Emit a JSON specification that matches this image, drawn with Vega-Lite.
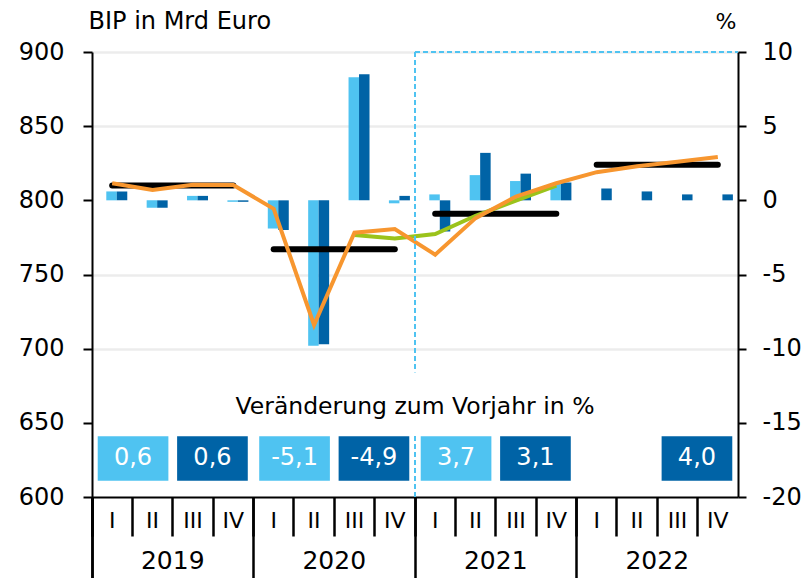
{
  "$schema": "https://vega.github.io/schema/vega-lite/v6.json",
  "width": 646,
  "height": 445,
  "autosize": "none",
  "padding": {"left": 92, "top": 52, "right": 70, "bottom": 81},
  "background": "white",
  "config": {
    "font": "DejaVu Sans",
    "view": {"stroke": null},
    "axis": {
      "domainColor": "black",
      "tickColor": "black",
      "labelColor": "black",
      "titleColor": "black",
      "labelFont": "DejaVu Sans",
      "titleFont": "DejaVu Sans",
      "titleFontWeight": "normal"
    }
  },
  "datasets": {
    "balken": [
      {"quartal": "2019 I", "reihe": "A", "pct": 0.6},
      {"quartal": "2019 II", "reihe": "A", "pct": -0.5},
      {"quartal": "2019 III", "reihe": "A", "pct": 0.3},
      {"quartal": "2019 IV", "reihe": "A", "pct": -0.1},
      {"quartal": "2020 I", "reihe": "A", "pct": -1.9},
      {"quartal": "2020 II", "reihe": "A", "pct": -9.8},
      {"quartal": "2020 III", "reihe": "A", "pct": 8.3},
      {"quartal": "2020 IV", "reihe": "A", "pct": -0.2},
      {"quartal": "2021 I", "reihe": "A", "pct": 0.4},
      {"quartal": "2021 II", "reihe": "A", "pct": 1.7},
      {"quartal": "2021 III", "reihe": "A", "pct": 1.3},
      {"quartal": "2021 IV", "reihe": "A", "pct": 1.1},
      {"quartal": "2019 I", "reihe": "B", "pct": 0.6},
      {"quartal": "2019 II", "reihe": "B", "pct": -0.5},
      {"quartal": "2019 III", "reihe": "B", "pct": 0.3},
      {"quartal": "2019 IV", "reihe": "B", "pct": -0.1},
      {"quartal": "2020 I", "reihe": "B", "pct": -2.0},
      {"quartal": "2020 II", "reihe": "B", "pct": -9.7},
      {"quartal": "2020 III", "reihe": "B", "pct": 8.5},
      {"quartal": "2020 IV", "reihe": "B", "pct": 0.3},
      {"quartal": "2021 I", "reihe": "B", "pct": -2.1},
      {"quartal": "2021 II", "reihe": "B", "pct": 3.2},
      {"quartal": "2021 III", "reihe": "B", "pct": 1.8},
      {"quartal": "2021 IV", "reihe": "B", "pct": 1.2},
      {"quartal": "2022 I", "reihe": "B", "pct": 0.8},
      {"quartal": "2022 II", "reihe": "B", "pct": 0.6},
      {"quartal": "2022 III", "reihe": "B", "pct": 0.4},
      {"quartal": "2022 IV", "reihe": "B", "pct": 0.4}
    ],
    "linien": [
      {"quartal": "2019 I", "linie": "orange", "wert": 811.5},
      {"quartal": "2019 II", "linie": "orange", "wert": 807},
      {"quartal": "2019 III", "linie": "orange", "wert": 810.5},
      {"quartal": "2019 IV", "linie": "orange", "wert": 810.3},
      {"quartal": "2020 I", "linie": "orange", "wert": 794.3},
      {"quartal": "2020 II", "linie": "orange", "wert": 716},
      {"quartal": "2020 III", "linie": "orange", "wert": 778.2},
      {"quartal": "2020 IV", "linie": "orange", "wert": 780.7},
      {"quartal": "2021 I", "linie": "orange", "wert": 763.4},
      {"quartal": "2021 II", "linie": "orange", "wert": 788},
      {"quartal": "2021 III", "linie": "orange", "wert": 802.6},
      {"quartal": "2021 IV", "linie": "orange", "wert": 811.5},
      {"quartal": "2022 I", "linie": "orange", "wert": 819},
      {"quartal": "2022 II", "linie": "orange", "wert": 823},
      {"quartal": "2022 III", "linie": "orange", "wert": 826},
      {"quartal": "2022 IV", "linie": "orange", "wert": 829.2},
      {"quartal": "2020 III", "linie": "gruen", "wert": 776.6},
      {"quartal": "2020 IV", "linie": "gruen", "wert": 774.2},
      {"quartal": "2021 I", "linie": "gruen", "wert": 777.3},
      {"quartal": "2021 II", "linie": "gruen", "wert": 789.6},
      {"quartal": "2021 III", "linie": "gruen", "wert": 799.8},
      {"quartal": "2021 IV", "linie": "gruen", "wert": 809.9}
    ],
    "jahresmittel": [
      {"jahr": "2019", "von": "2019 I", "bis": "2019 IV", "wert": 810},
      {"jahr": "2020", "von": "2020 I", "bis": "2020 IV", "wert": 767},
      {"jahr": "2021", "von": "2021 I", "bis": "2021 IV", "wert": 791},
      {"jahr": "2022", "von": "2022 I", "bis": "2022 IV", "wert": 824}
    ],
    "vorjahr": [
      {"jahr": "2019", "reihe": "A", "text": "0,6"},
      {"jahr": "2019", "reihe": "B", "text": "0,6"},
      {"jahr": "2020", "reihe": "A", "text": "-5,1"},
      {"jahr": "2020", "reihe": "B", "text": "-4,9"},
      {"jahr": "2021", "reihe": "A", "text": "3,7"},
      {"jahr": "2021", "reihe": "B", "text": "3,1"},
      {"jahr": "2022", "reihe": "B", "text": "4,0"}
    ],
    "prognose": [
      {"von": "2021", "bis": "2022", "titel": "Veränderung zum Vorjahr in %"}
    ]
  },
  "layer": [
    {
      "layer": [
        {
          "data": {"name": "balken"},
          "mark": {"type": "bar"},
          "encoding": {
            "x": {
              "field": "quartal", "type": "nominal",
              "scale": {"paddingInner": 0, "paddingOuter": 0},
              "axis": {
                "orient": "bottom", "title": null, "labelAngle": 0,
                "labelExpr": "split(datum.label, ' ')[1]",
                "bandPosition": 0, "tickExtra": true,
                "tickSize": 39, "tickWidth": 2.5, "domainWidth": 2,
                "labelFontSize": 22, "labelBaseline": "middle", "labelPadding": -16,
                "grid": false
              }
            },
            "xOffset": {
              "field": "reihe", "type": "nominal",
              "scale": {"domain": ["A", "B"], "paddingInner": 0, "paddingOuter": 0.924, "align": 0.737}
            },
            "y": {
              "field": "pct", "type": "quantitative",
              "scale": {"domain": [-20, 10], "nice": false},
              "axis": {
                "orient": "right", "title": "%", "values": [-20, -15, -10, -5, 0, 5, 10],
                "labelExpr": "'' + datum.value",
                "grid": false, "tickSize": 8, "tickWidth": 2, "domainWidth": 2,
                "labelFontSize": 24, "labelPadding": 16,
                "titleAngle": 0, "titleAlign": "right", "titleBaseline": "alphabetic",
                "titleX": -2, "titleY": -24, "titleFontSize": 22
              }
            },
            "color": {
              "field": "reihe", "type": "nominal",
              "scale": {"domain": ["A", "B"], "range": ["#4FC3F1", "#0063A6"]},
              "legend": null
            }
          }
        },
        {
          "layer": [
            {
              "mark": {"type": "rule", "color": "black", "strokeWidth": 1.5},
              "encoding": {
                "y": {
                  "datum": 800, "type": "quantitative",
                  "scale": {"domain": [600, 900], "nice": false, "zero": false},
                  "axis": {
                    "orient": "left", "title": "BIP in Mrd Euro",
                    "values": [600, 650, 700, 750, 800, 850, 900],
                    "grid": true, "gridColor": "#ececec", "gridWidth": 2.5,
                    "gridOpacity": {"condition": {"test": "datum.value == 600 || datum.value == 650 || datum.value == 800", "value": 0}, "value": 1},
                    "tickSize": 9, "tickWidth": 2, "domainWidth": 2,
                    "labelFontSize": 24, "labelPadding": 19,
                    "titleAngle": 0, "titleAlign": "left", "titleBaseline": "alphabetic",
                    "titleX": -4, "titleY": -24, "titleFontSize": 24
                  }
                }
              }
            },
            {
              "data": {"name": "jahresmittel"},
              "mark": {"type": "rule", "color": "black", "strokeWidth": 6, "strokeCap": "round"},
              "encoding": {
                "x": {"field": "von", "type": "nominal"},
                "x2": {"field": "bis"},
                "y": {"field": "wert", "type": "quantitative"}
              }
            },
            {
              "data": {"name": "linien"},
              "transform": [{"filter": "datum.linie == 'gruen'"}],
              "mark": {"type": "line", "color": "#9BC31B", "strokeWidth": 4},
              "encoding": {
                "x": {"field": "quartal", "type": "nominal"},
                "y": {"field": "wert", "type": "quantitative"}
              }
            },
            {
              "data": {"name": "linien"},
              "transform": [{"filter": "datum.linie == 'orange'"}],
              "mark": {"type": "line", "color": "#F7962F", "strokeWidth": 4},
              "encoding": {
                "x": {"field": "quartal", "type": "nominal"},
                "y": {"field": "wert", "type": "quantitative"}
              }
            }
          ]
        }
      ],
      "resolve": {"scale": {"y": "independent"}}
    },
    {
      "layer": [
        {
          "data": {"name": "vorjahr"},
          "mark": {"type": "bar"},
          "encoding": {
            "x": {
              "field": "jahr", "type": "nominal",
              "scale": {"domain": ["2019", "2020", "2021", "2022"], "paddingInner": 0, "paddingOuter": 0},
              "axis": {
                "orient": "bottom", "title": null, "labelAngle": 0,
                "bandPosition": 0, "tickExtra": true,
                "tickSize": 81, "tickWidth": 2.5, "domain": false,
                "labelFontSize": 25, "labelBaseline": "middle", "labelPadding": -18,
                "grid": false
              }
            },
            "xOffset": {
              "field": "reihe", "type": "nominal",
              "scale": {"domain": ["A", "B"], "paddingInner": 0.11, "paddingOuter": 0.072}
            },
            "y": {
              "datum": 641, "type": "quantitative",
              "scale": {"domain": [600, 900], "nice": false, "zero": false},
              "axis": null
            },
            "y2": {"datum": 611},
            "color": {"field": "reihe", "type": "nominal", "legend": null}
          }
        },
        {
          "data": {"name": "vorjahr"},
          "mark": {"type": "text", "fontSize": 24, "color": "white", "baseline": "middle", "align": "center"},
          "encoding": {
            "x": {"field": "jahr", "type": "nominal"},
            "xOffset": {"field": "reihe", "type": "nominal"},
            "y": {"datum": 626, "type": "quantitative"},
            "text": {"field": "text", "type": "nominal"}
          }
        },
        {
          "data": {"name": "prognose"},
          "mark": {"type": "rule", "color": "#4FC3F1", "strokeWidth": 2, "strokeDash": [5, 3]},
          "encoding": {
            "x": {"field": "von", "type": "nominal", "bandPosition": 0},
            "y": {"datum": 900, "type": "quantitative"},
            "y2": {"datum": 600}
          }
        },
        {
          "data": {"name": "prognose"},
          "mark": {"type": "rule", "color": "white", "strokeWidth": 6},
          "encoding": {
            "x": {"field": "von", "type": "nominal", "bandPosition": 0},
            "y": {"datum": 684, "type": "quantitative"},
            "y2": {"datum": 642}
          }
        },
        {
          "data": {"name": "prognose"},
          "mark": {"type": "rule", "color": "#4FC3F1", "strokeWidth": 2, "strokeDash": [5, 3]},
          "encoding": {
            "x": {"field": "von", "type": "nominal", "bandPosition": 0},
            "x2": {"field": "bis", "bandPosition": 1},
            "y": {"datum": 900, "type": "quantitative"}
          }
        },
        {
          "data": {"name": "prognose"},
          "mark": {"type": "text", "fontSize": 23.5, "color": "black", "baseline": "middle", "align": "center"},
          "encoding": {
            "x": {"field": "von", "type": "nominal", "bandPosition": 0},
            "y": {"datum": 661, "type": "quantitative"},
            "text": {"field": "titel", "type": "nominal"}
          }
        }
      ]
    }
  ],
  "resolve": {"scale": {"x": "independent", "y": "independent", "xOffset": "independent"}}
}
